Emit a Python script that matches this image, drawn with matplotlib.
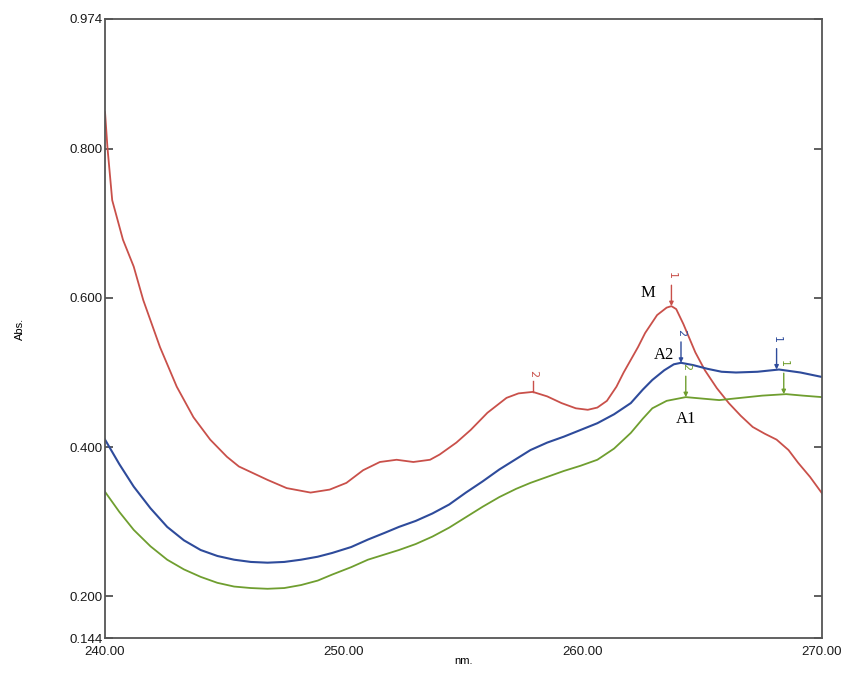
import numpy as np
import matplotlib
matplotlib.use("Agg")
import matplotlib.pyplot as plt

# values (nm, Abs.)
m_nm = [240.0, 240.1, 240.3, 240.75, 241.2, 241.6, 242.3, 243.0, 243.7, 244.4, 245.1,
        245.6, 246.8, 247.6, 248.6, 249.4, 250.1, 250.8, 251.5, 252.2, 252.9, 253.6,
        254.0, 254.7, 255.3, 256.0, 256.8, 257.3, 257.9, 258.5, 259.1, 259.7, 260.2,
        260.6, 261.0, 261.4, 261.7, 262.3, 262.6, 263.1, 263.5, 263.7, 263.9, 264.2,
        264.7, 265.1, 265.6, 266.1, 266.6, 267.1, 267.6, 268.1, 268.6, 269.0, 269.5, 270.0]
m_abs = [0.849, 0.802, 0.731, 0.678, 0.642, 0.597, 0.534, 0.481, 0.440, 0.410, 0.387,
         0.374, 0.356, 0.345, 0.339, 0.343, 0.352, 0.369, 0.380, 0.383, 0.380, 0.383,
         0.390, 0.406, 0.423, 0.446, 0.466, 0.472, 0.474, 0.468, 0.459, 0.452, 0.450,
         0.453, 0.462, 0.481, 0.500, 0.534, 0.553, 0.577, 0.587, 0.589, 0.585, 0.565,
         0.527, 0.503, 0.479, 0.459, 0.442, 0.427, 0.418, 0.410, 0.396, 0.379, 0.360, 0.338]

a2_nm = [240.0, 240.6, 241.2, 241.9, 242.6, 243.3, 244.0, 244.7, 245.4, 246.1, 246.8,
         247.5, 248.2, 248.9, 249.5, 250.3, 251.0, 251.7, 252.3, 253.0, 253.7, 254.4,
         255.1, 255.8, 256.5, 257.2, 257.8, 258.5, 259.2, 259.9, 260.6, 261.3, 262.0,
         262.5, 262.9, 263.4, 263.8, 264.1, 264.6, 265.2, 265.8, 266.4, 267.3, 268.2,
         269.1, 270.0]
a2_abs = [0.410, 0.377, 0.347, 0.318, 0.293, 0.275, 0.262, 0.254, 0.249, 0.246, 0.245,
          0.246, 0.249, 0.253, 0.258, 0.266, 0.276, 0.285, 0.293, 0.301, 0.311, 0.323,
          0.339, 0.354, 0.370, 0.384, 0.396, 0.406, 0.414, 0.423, 0.432, 0.444, 0.459,
          0.477, 0.490, 0.503, 0.511, 0.513, 0.510, 0.505, 0.501, 0.500, 0.501, 0.504,
          0.500, 0.494]

a1_nm = [240.0, 240.6, 241.2, 241.9, 242.6, 243.3, 244.0, 244.7, 245.4, 246.1, 246.8,
         247.5, 248.2, 248.9, 249.5, 250.3, 251.0, 251.7, 252.3, 253.0, 253.7, 254.4,
         255.1, 255.8, 256.5, 257.2, 257.8, 258.5, 259.2, 259.9, 260.6, 261.3, 262.0,
         262.5, 262.9, 263.5, 264.3, 265.0, 265.7, 266.6, 267.5, 268.5, 269.2, 270.0]
a1_abs = [0.340, 0.313, 0.289, 0.267, 0.249, 0.236, 0.226, 0.218, 0.213, 0.211, 0.210,
          0.211, 0.215, 0.221, 0.229, 0.239, 0.249, 0.256, 0.262, 0.270, 0.280, 0.292,
          0.306, 0.320, 0.333, 0.344, 0.352, 0.360, 0.368, 0.375, 0.383, 0.398, 0.419,
          0.438, 0.452, 0.462, 0.467, 0.465, 0.463, 0.466, 0.469, 0.471, 0.469, 0.467]

# peak pick marks: (nm, curve value, label)
m_peaks = [(257.9, 0.474, "2"), (263.7, 0.589, "1")]
a2_peaks = [(264.1, 0.513, "2"), (268.1, 0.504, "1")]
a1_peaks = [(264.3, 0.467, "2"), (268.4, 0.471, "1")]

y_ticks = [0.144, 0.200, 0.400, 0.600, 0.800, 0.974]
x_ticks = [240, 250, 260, 270]

red = "#c9504a"
blue = "#2e4b9b"
green = "#6f9e2f"

fig = plt.figure(figsize=(8.41, 6.76), dpi=100)
ax = fig.add_axes([0.1249, 0.0562, 0.8525, 0.9157])

ax.plot(m_nm, m_abs, color=red, lw=1.3)
ax.plot(a2_nm, a2_abs, color=blue, lw=1.5)
ax.plot(a1_nm, a1_abs, color=green, lw=1.3)

def mark(peaks, col, arrow=True):
    for x, y, lab in peaks:
        if arrow:
            ax.annotate("", xy=(x, y), xytext=(x, y + 0.028),
                        arrowprops=dict(arrowstyle="-|>", color=col, lw=1.0,
                                        mutation_scale=6, shrinkA=0, shrinkB=0))
            ty = y + 0.036
        else:
            ax.plot([x, x], [y, y + 0.014], color=col, lw=1.0)
            ty = y + 0.02
        ax.text(x, ty, lab, color=col, fontsize=8, rotation=-90,
                ha="center", va="bottom")

mark([m_peaks[0]], red, arrow=False)
mark([m_peaks[1]], red)
mark(a2_peaks, blue)
mark(a1_peaks, green)

ax.text(262.7, 0.607, "M", fontsize=12, family="Liberation Serif", ha="center", va="center")
ax.text(263.4, 0.523, "A2", fontsize=12, family="Liberation Serif", ha="center", va="center")
ax.text(264.3, 0.438, "A1", fontsize=12, family="Liberation Serif", ha="center", va="center")

ax.set_xlim(240, 270)
ax.set_ylim(0.144, 0.974)
ax.set_yticks(y_ticks)
ax.set_yticklabels([f"{v:.3f}" for v in y_ticks])
ax.set_xticks(x_ticks)
ax.set_xticklabels([f"{v:.2f}" for v in x_ticks])

ax.tick_params(axis="y", direction="in", length=6, width=1.2, color="#444",
               right=True, labelsize=9.5, labelcolor="#1a1a1a", pad=2)
ax.tick_params(axis="x", length=0, labelsize=9.5, labelcolor="#1a1a1a", pad=6)
for lab in ax.get_xticklabels() + ax.get_yticklabels():
    lab.set_family("Liberation Sans")

for s in ax.spines.values():
    s.set_color("#555")
    s.set_linewidth(1.3)

ax.set_xlabel("nm.", fontsize=8, family="Liberation Sans", labelpad=-2)
ax.set_ylabel("Abs.", fontsize=8, family="Liberation Sans", labelpad=32)

fig.savefig("out.png", dpi=100)
